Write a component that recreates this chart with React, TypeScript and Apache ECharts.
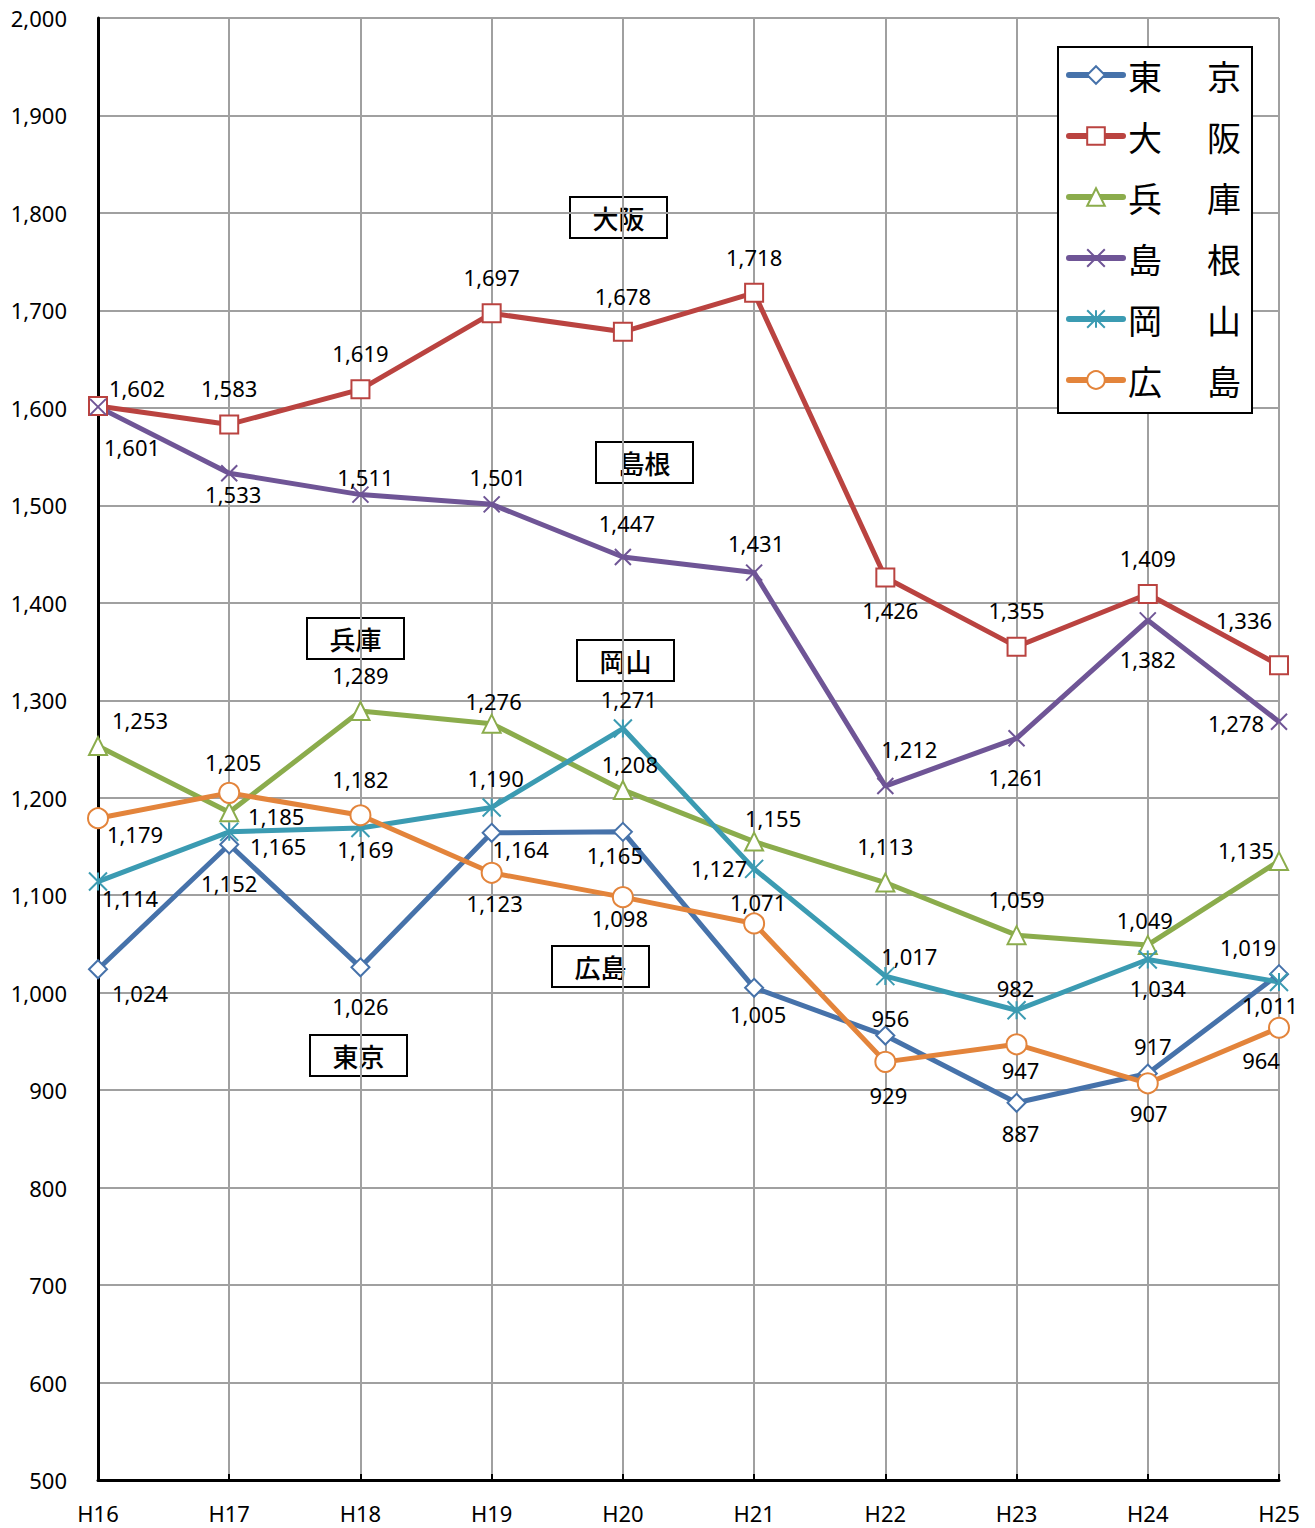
import React, { useEffect, useRef } from "react";
import * as echarts from "echarts";

const categories = ["H16", "H17", "H18", "H19", "H20", "H21", "H22", "H23", "H24", "H25"];
const seriesNames = ["東京", "大阪", "兵庫", "島根", "岡山", "広島"];
const tokyo = [1024, 1152, 1026, 1164, 1165, 1005, 956, 887, 917, 1019];
const osaka = [1602, 1583, 1619, 1697, 1678, 1718, 1426, 1355, 1409, 1336];
const hyogo = [1253, 1185, 1289, 1276, 1208, 1155, 1113, 1059, 1049, 1135];
const shimane = [1601, 1533, 1511, 1501, 1447, 1431, 1212, 1261, 1382, 1278];
const okayama = [1114, 1165, 1169, 1190, 1271, 1127, 1017, 982, 1034, 1011];
const hiroshima = [1179, 1205, 1182, 1123, 1098, 1071, 929, 947, 907, 964];
const yTicks = { min: 500, max: 2000, interval: 100 };

// label offsets (pixels, label centre relative to point)
const tokyoOff = [[42, 24], [0, 38], [0, 39], [29, 16], [-8, 23], [4, 26], [5, -18], [4, 30], [5, -28], [-31, -27]];
const osakaOff = [[39, -18], [0, -36], [0, -36], [0, -36], [0, -36], [0, -36], [5, 33], [0, -37], [0, -36], [-35, -45]];
const hyogoOff = [[42, -26], [47, 4], [0, -36], [2, -23], [7, -26], [19, -24], [0, -37], [0, -36], [-3, -25], [-33, -11]];
const shimaneOff = [[34, 40], [4, 21], [5, -18], [6, -27], [4, -34], [2, -30], [24, -37], [0, 39], [0, 39], [-43, 1]];
const okayamaOff = [[32, 16], [49, 14], [5, 21], [4, -29], [6, -30], [-35, -1], [24, -20], [-1, -22], [10, 28], [-9, 23]];
const hiroshimaOff = [[37, 16], [4, -31], [0, -36], [3, 30], [-3, 21], [4, -21], [3, 33], [4, 26], [1, 30], [-18, 32]];

const colors = ["#4672AA", "#BA4340", "#8BAC4C", "#6F5596", "#3B9BB2", "#E3843B"];
const symbols = [
  "diamond",
  "rect",
  "triangle",
  "path://M0,0L10,10M10,0L0,10",
  "path://M0,0L10,10M10,0L0,10M5,0L5,10",
  "circle",
];
const symbolSizes = [18, 18, 18, 16, 18, 20];

const annotations = [
  { text: "大阪", x: 570, y: 197 },
  { text: "島根", x: 596, y: 442 },
  { text: "兵庫", x: 307, y: 618 },
  { text: "岡山", x: 577, y: 640 },
  { text: "広島", x: 552, y: 946 },
  { text: "東京", x: 310, y: 1035 },
];

const FONT = "'Noto Sans', 'Noto Sans CJK JP', sans-serif";
const CJK = "'Noto Sans CJK JP', sans-serif";

export default function App() {
  const ref = useRef<HTMLDivElement>(null);
  useEffect(() => {
    if (!ref.current) return;
    const chart = echarts.init(ref.current, undefined, { renderer: "svg" });
    const allData = [tokyo, osaka, hyogo, shimane, okayama, hiroshima];
    const allOff = [tokyoOff, osakaOff, hyogoOff, shimaneOff, okayamaOff, hiroshimaOff];
    const series = seriesNames.map((name, si) => ({
      name,
      type: "line",
      data: allData[si].map((v, i) => ({
        value: v,
        label: { offset: allOff[si][i] },
      })),
      symbol: symbols[si],
      symbolSize: symbolSizes[si],
      showAllSymbol: true,
      lineStyle: { color: colors[si], width: 5 },
      itemStyle: { color: "#ffffff", borderColor: colors[si], borderWidth: 2 },
      label: {
        show: true,
        position: "inside",
        color: "#000",
        fontFamily: FONT,
        fontSize: 22,
        formatter: (p: any) => Number(p.value).toLocaleString("en-US"),
      },
      emphasis: { disabled: true },
    }));

    const graphic = annotations.map((a) => ({
      type: "group",
      x: a.x,
      y: a.y,
      z: 100,
      children: [
        {
          type: "rect",
          shape: { x: 0, y: 0, width: 97, height: 41 },
          style: { fill: "#fff", stroke: "#000", lineWidth: 2 },
        },
        {
          type: "text",
          x: 48.5,
          y: 20,
          style: {
            text: a.text,
            fontFamily: CJK,
            fontSize: 26,
            fontWeight: 500,
            fill: "#000",
            align: "center",
            verticalAlign: "middle",
          },
        },
      ],
    }));

    chart.setOption({
      animation: false,
      backgroundColor: "#fff",
      grid: { left: 98, top: 18, width: 1181, height: 1462, containLabel: false },
      legend: {
        orient: "vertical",
        left: 1058,
        top: 47,
        backgroundColor: "#fff",
        borderColor: "#000",
        borderWidth: 2,
        borderRadius: 0,
        padding: [8, 11, 13, 8],
        itemWidth: 54,
        itemHeight: 22,
        itemGap: 21,
        data: seriesNames,
        lineStyle: { width: 6, cap: "round" },
        formatter: (name: string) => `{a|${name[0]}}{b|${name[1]}}`,
        textStyle: {
          color: "#000",
          fontFamily: CJK,
          fontSize: 34,
          lineHeight: 40,
          rich: {
            a: { width: 79, fontSize: 34, fontFamily: CJK, color: "#000", lineHeight: 40 },
            b: { fontSize: 34, fontFamily: CJK, color: "#000", lineHeight: 40 },
          },
        },
      },
      xAxis: {
        type: "category",
        data: categories,
        boundaryGap: false,
        axisLine: { lineStyle: { color: "#000", width: 3 } },
        axisTick: { show: true, inside: true, length: 6, alignWithLabel: true, lineStyle: { color: "#000", width: 2 } },
        axisLabel: { color: "#000", fontFamily: FONT, fontSize: 22, margin: 22 },
        splitLine: { show: true, lineStyle: { color: "#a0a0a0", width: 2 } },
      },
      yAxis: {
        type: "value",
        min: yTicks.min,
        max: yTicks.max,
        interval: yTicks.interval,
        axisLine: { show: true, lineStyle: { color: "#000", width: 3 } },
        axisTick: { show: false },
        axisLabel: {
          color: "#000",
          fontFamily: FONT,
          fontSize: 22,
          margin: 31,
          formatter: (v: number) => v.toLocaleString("en-US"),
        },
        splitLine: { show: true, lineStyle: { color: "#a0a0a0", width: 2 } },
      },
      series,
      graphic,
    });
    return () => chart.dispose();
  }, []);
  return (
    <div
      ref={ref}
      style={{ position: "fixed", left: 0, top: 0, width: 1315, height: 1528 }}
    />
  );
}
